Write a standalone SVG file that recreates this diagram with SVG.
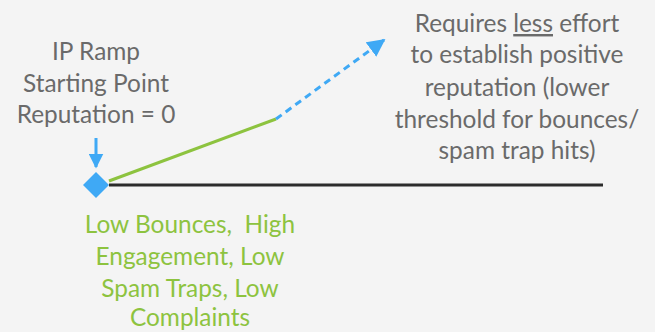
<svg xmlns="http://www.w3.org/2000/svg" width="655" height="332" viewBox="0 0 655 332">
<defs>
<style>
.t{font-family:"Lato","Open Sans",sans-serif;font-size:24.4px;text-anchor:middle}
.g{fill:#6a6a6a}
.gr{fill:#8dc33f}
</style>
<marker id="ab" viewBox="0 0 10 10" refX="9" refY="5" markerWidth="5" markerHeight="5" orient="auto" markerUnits="strokeWidth">
<path d="M0,0 L10,5 L0,10 z" fill="#3fa9f5"/>
</marker>
<marker id="abl" viewBox="0 0 10 10" refX="9" refY="5" markerWidth="6" markerHeight="6" orient="auto" markerUnits="strokeWidth">
<path d="M0,0 L10,5 L0,10 z" fill="#3fa9f5"/>
</marker>
</defs>
<rect width="655" height="332" fill="#f4f4f4"/>
<g id="connectors">
<line x1="109" y1="185" x2="603" y2="185" stroke="#2b2b2b" stroke-width="3"/>
<line x1="109" y1="181" x2="276" y2="119" stroke="#8dc33f" stroke-width="3"/>
<line x1="276" y1="119" x2="384" y2="40" stroke="#3fa9f5" stroke-width="3" stroke-dasharray="7,5" marker-end="url(#abl)"/>
<line x1="96" y1="138" x2="96" y2="167" stroke="#3fa9f5" stroke-width="3" marker-end="url(#ab)"/>
</g>
<g id="start-node">
<polygon points="96,172 109,185 96,198 83,185" fill="#3fa9f5"/>
</g>
<g id="start-label">
<text class="t g" x="96" y="60">IP Ramp</text>
<text class="t g" x="96" y="92">Starting Point</text>
<text class="t g" x="96" y="123">Reputation = 0</text>
</g>
<g id="effort-label">
<text class="t g" x="517" y="32">Requires <tspan text-decoration="underline">less</tspan> effort</text>
<text class="t g" x="517" y="63">to establish positive</text>
<text class="t g" x="517" y="96">reputation (lower</text>
<text class="t g" x="517" y="128">threshold for bounces/</text>
<text class="t g" x="517" y="159">spam trap hits)</text>
</g>
<g id="metrics-label">
<text class="t gr" x="190" y="233" xml:space="preserve">Low Bounces,  High</text>
<text class="t gr" x="190" y="265">Engagement, Low</text>
<text class="t gr" x="190" y="297">Spam Traps, Low</text>
<text class="t gr" x="190" y="326">Complaints</text>
</g>
</svg>
